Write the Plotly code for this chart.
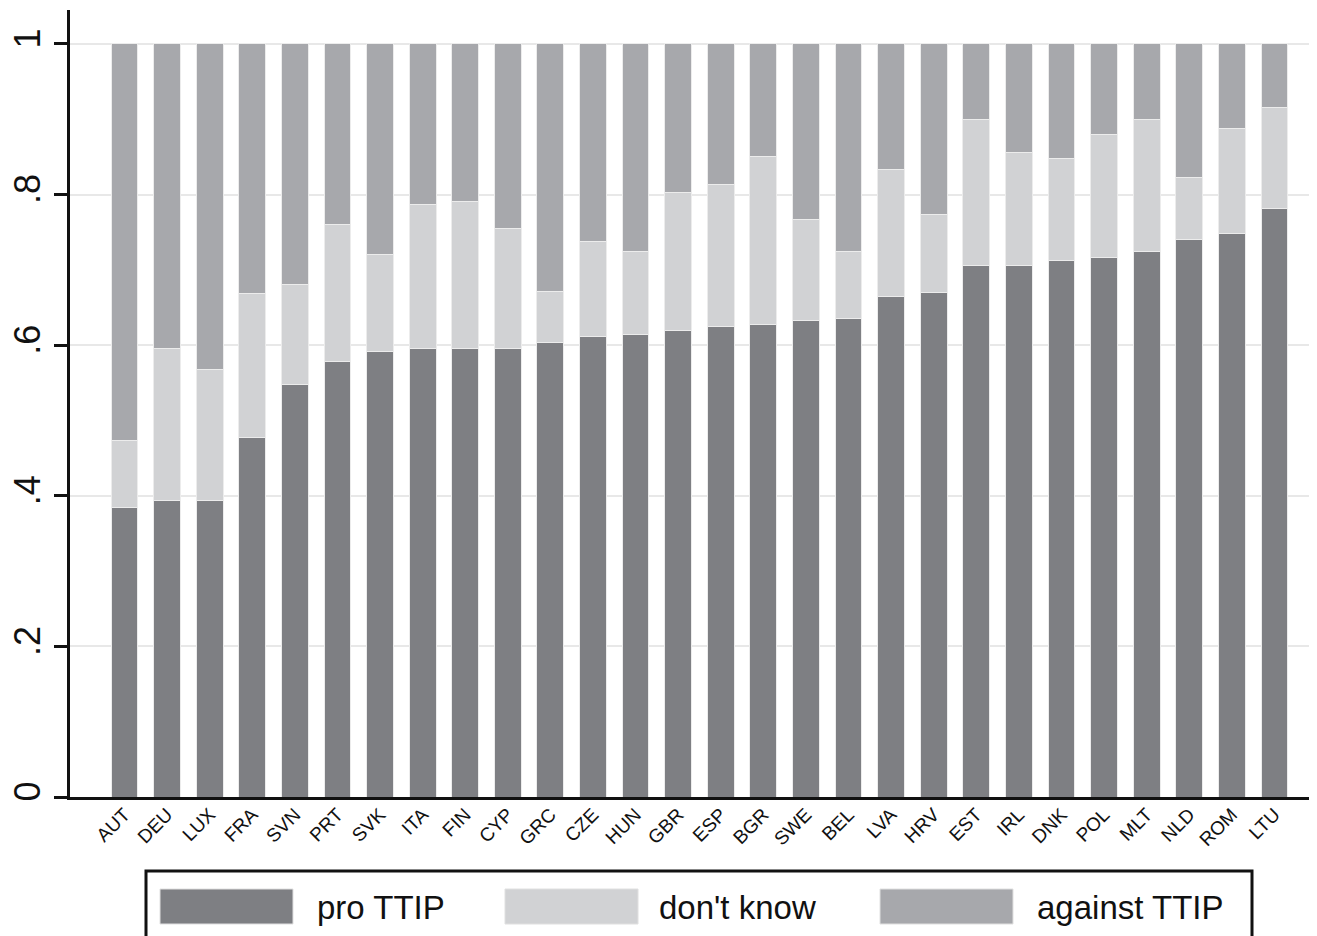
import plotly.graph_objects as go

countries = ["AUT", "DEU", "LUX", "FRA", "SVN", "PRT", "SVK", "ITA", "FIN", "CYP",
             "GRC", "CZE", "HUN", "GBR", "ESP", "BGR", "SWE", "BEL", "LVA", "HRV",
             "EST", "IRL", "DNK", "POL", "MLT", "NLD", "ROM", "LTU"]

pro_ttip = [0.384, 0.394, 0.394, 0.477, 0.548, 0.578, 0.591, 0.596, 0.596, 0.596,
            0.604, 0.611, 0.614, 0.620, 0.625, 0.628, 0.633, 0.635, 0.665, 0.670,
            0.706, 0.706, 0.713, 0.716, 0.724, 0.740, 0.748, 0.781]
dont_know = [0.089, 0.202, 0.173, 0.191, 0.133, 0.182, 0.130, 0.191, 0.195, 0.159,
             0.067, 0.126, 0.110, 0.183, 0.188, 0.222, 0.134, 0.089, 0.168, 0.104,
             0.193, 0.150, 0.135, 0.164, 0.175, 0.082, 0.140, 0.134]
against_ttip = [0.527, 0.404, 0.433, 0.332, 0.319, 0.240, 0.279, 0.213, 0.209, 0.245,
                0.329, 0.263, 0.276, 0.197, 0.187, 0.150, 0.233, 0.276, 0.167, 0.226,
                0.101, 0.144, 0.152, 0.120, 0.101, 0.178, 0.112, 0.085]

series_names = ["pro TTIP", "don't know", "against TTIP"]
series_colors = ["#7e7f83", "#d1d2d4", "#a7a8ac"]
y_tickvals = [0, 0.2, 0.4, 0.6, 0.8, 1]
y_ticktext = ["0", ".2", ".4", ".6", ".8", "1"]

FONT = "Liberation Sans, Arial, sans-serif"
OFF = 8  # page body margin
W, H = 1317 - OFF, 936 - OFF
L, T, B = 70 - OFF, 10 - OFF, 139
R = 0
PW, PH = W - L - R, H - T - B

fig = go.Figure()
for name, vals, col in zip(series_names, [pro_ttip, dont_know, against_ttip], series_colors):
    fig.add_trace(go.Bar(
        x=countries, y=vals, name=name,
        marker=dict(color=col, line=dict(color="#ececec", width=1)),
        showlegend=False,
    ))

fig.update_layout(
    width=W, height=H,
    barmode="stack", bargap=0.37,
    paper_bgcolor="white", plot_bgcolor="white",
    margin=dict(l=L, r=R, t=T, b=B, pad=0),
    font=dict(family=FONT, color="#000000"),
)

fig.update_xaxes(
    range=[-1.28, 28.0],
    showline=True, linecolor="#111111", linewidth=3,
    ticks="", tickangle=-45, ticklabelstandoff=-4,
    tickfont=dict(size=19, family=FONT, color="#111111"),
    showgrid=False, zeroline=False,
)
fig.update_yaxes(
    range=[0, 1.045],
    tickvals=y_tickvals, ticktext=y_ticktext,
    tickangle=-90, tickfont=dict(size=36, family=FONT, color="#111111"),
    ticks="outside", ticklen=13, tickwidth=3, tickcolor="#111111",
    showline=True, linecolor="#111111", linewidth=3,
    showgrid=True, gridcolor="#e8e8e8", gridwidth=2,
    zeroline=False,
)

def px(xp):
    return (xp - 70) / PW

def py(yp):
    return (797 - yp) / PH

# legend box
fig.add_shape(type="rect", xref="paper", yref="paper",
              x0=px(146), x1=px(1252), y0=py(960), y1=py(871),
              line=dict(color="#111111", width=3), fillcolor="white")

sw_x = [160, 505, 880]
tx_x = [315, 657, 1035]
for name, col, sx, tx in zip(series_names, series_colors, sw_x, tx_x):
    fig.add_shape(type="rect", xref="paper", yref="paper",
                  x0=px(sx), x1=px(sx + 133), y0=py(924), y1=py(889),
                  line=dict(color="#e0e0e0", width=1), fillcolor=col)
    fig.add_annotation(xref="paper", yref="paper", x=px(tx), y=py(907),
                       text=name, showarrow=False, xanchor="left", yanchor="middle",
                       font=dict(size=33, family=FONT, color="#111111"))

fig.write_html("out.html")
